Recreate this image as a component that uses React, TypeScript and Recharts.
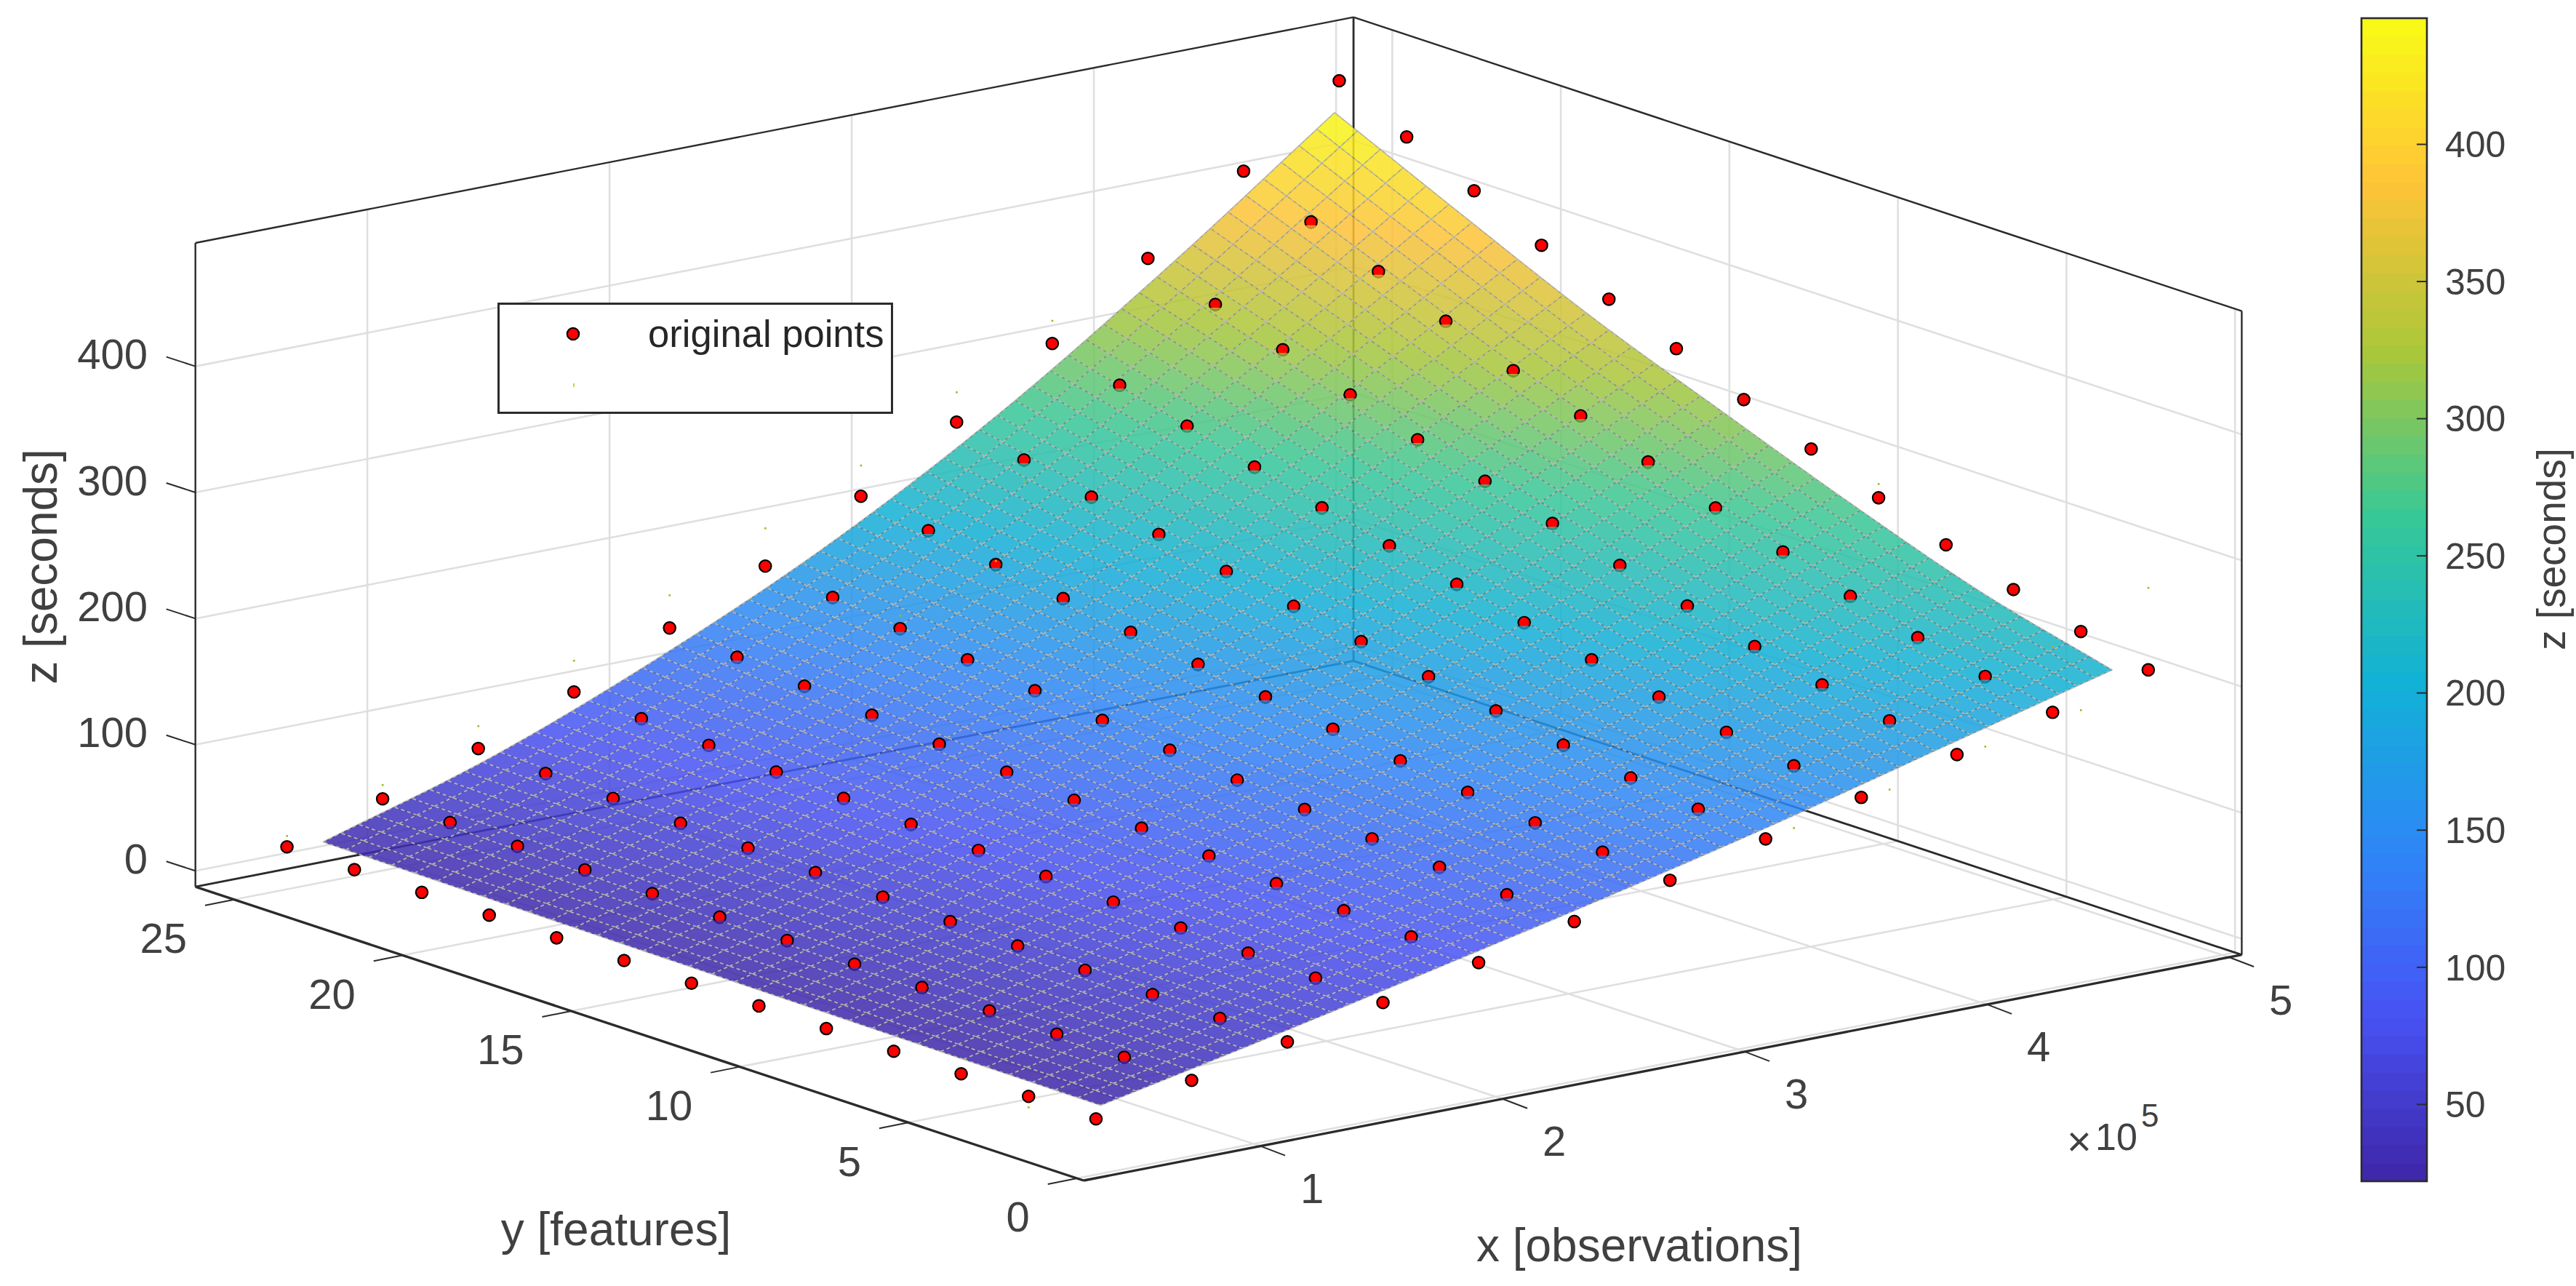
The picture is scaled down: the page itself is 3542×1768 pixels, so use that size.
import React from 'react';
import { ScatterChart, Scatter, XAxis, YAxis, Legend } from 'recharts';

const FONT = '"Liberation Sans", Arial, sans-serif';
const W = 3542, H = 1768;

const xTicks = [100000, 200000, 300000, 400000, 500000];
const xTickText = ['1', '2', '3', '4', '5'];
const yTicks = [0, 5, 10, 15, 20, 25];
const zTicks = [0, 100, 200, 300, 400];
const colorTicks = [50, 100, 150, 200, 250, 300, 350, 400];

const pointX = [48800, 88300, 127800, 167300, 206800, 246300, 285800, 325300, 364800, 404300, 443800, 483300];
const pointY = [1, 3, 5, 7, 9, 11, 13, 15, 17, 19, 21, 23, 25];
const pointZ = [
  [17.5, 17.7, 17.9, 18.1, 18.4, 18.7, 19, 19.3, 19.6, 19.9, 20.3, 20.6, 21],
  [33.3, 33.9, 34.5, 35.3, 36.2, 37, 38, 38.9, 39.9, 41, 42, 43.2, 44.3],
  [49, 50, 51.2, 52.7, 54.3, 55.9, 57.7, 59.5, 61.2, 63.2, 65.2, 67.3, 69.4],
  [65.4, 67.1, 69.2, 71.5, 74.3, 77, 79.9, 82.9, 85.8, 89.1, 92.5, 96, 99.5],
  [82.3, 85, 88.1, 91.9, 96.1, 100.4, 104.9, 109.5, 114, 119.3, 124.6, 129.9, 135.4],
  [100.1, 103.6, 107.8, 112.6, 118.2, 123.8, 129.8, 135.8, 141.6, 148.5, 155.5, 162.5, 169.7],
  [118, 122.6, 128.2, 134.6, 142, 149.4, 157.3, 165.4, 173.1, 182.2, 191.5, 200.7, 210.3],
  [136, 141.9, 149, 157.3, 166.8, 176.2, 186.4, 196.7, 206.6, 218.3, 230.2, 242, 254.3],
  [154.1, 161.5, 170.4, 180.7, 192.5, 204.3, 217, 229.9, 242.3, 256.9, 271.7, 286.4, 301.8],
  [173.3, 182.4, 193.2, 205.9, 220.4, 234.9, 250.5, 266.3, 281.5, 299.4, 317.5, 335.7, 354.5],
  [192, 202.8, 215.9, 231, 248.4, 265.7, 284.4, 303.3, 321.5, 343, 364.7, 386.3, 408.9],
  [210.9, 223.6, 239.2, 257, 276.6, 297.6, 319.1, 341.8, 363.3, 388.4, 413.9, 438.9, 465.8],
];

// small dots of the second legend entry: lattice indices and height
const dotI = [11, 11, 11, 10, 10, 9, 9, 8, 8, 10, 8, 7, 6, 5, 7, 6, 6, 5, 0, 1, 2, 0, 4, 3];
const dotJ = [4, 0, 1, 0, 1, 0, 1, 0, 1, 3, 12, 12, 12, 12, 11, 10, 9, 10, 12, 12, 12, 1, 12, 12];
const dotZ = [287.6, 276, 161.3, 244, 147.2, 215, 127.9, 177.9, 112.2, 189.7, 319.9, 278, 234.7, 199.7, 224.7, 194.3, 190.7, 165.8, 29.7, 55.3, 87.2, 9, 161.4, 124.3];

const surfaceX = [57200, 126800, 196500, 266100, 335700, 405300, 474900];
const surfaceY = [1.465, 5.31, 9.155, 13, 16.845, 20.69, 24.535];
const surfaceZ = [
  [21, 21.5, 22.3, 23.1, 23.9, 24.9, 25.9],
  [48.8, 51, 54, 57.2, 60.5, 64, 67],
  [78, 83.7, 90.7, 98.4, 106.3, 113, 120.5],
  [108, 118.8, 130.5, 143.5, 156.8, 170, 183.5],
  [140, 155.9, 174.2, 194.4, 215, 237, 260],
  [175, 195.8, 222.2, 251.4, 281.2, 315.8, 350],
  [209.9, 236.8, 272.6, 312, 352.5, 399.4, 447.8],
];
const MESH_X = 57, MESH_Y = 34;

const parula = [
  [62, 38, 168], [72, 82, 244], [46, 135, 247], [18, 177, 214],
  [55, 200, 151], [171, 199, 57], [254, 195, 56], [249, 251, 21],
];
const colorMin = 22, colorMax = 446;

const xLim = [27000, 505200], yLim = [-0.2, 26.15], zLim = [-12.6, 497.8];

function P(x: number, y: number, z: number) {
  const u = x / 1e5 - 0.27;
  const v = y + 0.2;
  return {
    sx: 1490 + 333 * u - 46.35 * v,
    sy: 1623 - 64.9 * u - 15.33 * v - 1.734 * (z - zLim[0]),
  };
}

function colorOf(z: number, k = 1) {
  const t = Math.max(0, Math.min(1, (z - colorMin) / (colorMax - colorMin))) * (parula.length - 1);
  const i = Math.min(parula.length - 2, Math.floor(t));
  const f = t - i;
  const c = parula[i].map((v, n) => Math.round((v + (parula[i + 1][n] - v) * f) * k));
  return `rgb(${c[0]},${c[1]},${c[2]})`;
}

function seg(a: any, b: any, stroke: string, w: number, dash?: string) {
  return { sx: a.sx, sy: a.sy, ex: b.sx, ey: b.sy, stroke, w, dash };
}
const SegShape = (p: any) => {
  const d = p.payload;
  return <line x1={p.cx} y1={p.cy} x2={p.cx + d.ex - d.sx} y2={p.cy + d.ey - d.sy} stroke={d.stroke} strokeWidth={d.w} strokeDasharray={d.dash} />;
};

const GRID = '#dfdfdf', GW = 2.6, DARK = '#2b2b2b';
const [x0, x1] = xLim, [y0, y1] = yLim, [z0, z1] = zLim;
const BACK_DX = 2000;
const gridSegs: any[] = [];
for (const x of xTicks) {
  gridSegs.push(seg(P(x, y0, z0), P(x - BACK_DX, y1, z0), GRID, GW));
  gridSegs.push(seg(P(x - BACK_DX, y1, z0), P(x - BACK_DX, y1, z1), GRID, GW));
}
for (const y of yTicks) {
  gridSegs.push(seg(P(x0, y, z0), P(x1, y, z0), GRID, GW));
  gridSegs.push(seg(P(x1, y, z0), P(x1, y, z1), GRID, GW));
}
for (const z of zTicks) {
  gridSegs.push(seg(P(x0, y1, z), P(x1, y1, z), GRID, GW));
  gridSegs.push(seg(P(x1, y1, z), P(x1, y0, z), GRID, GW));
}

const boxSegs = [
  seg(P(x0, y1, z0), P(x0, y1, z1), DARK, 2.4),
  seg(P(x1, y0, z0), P(x1, y0, z1), DARK, 2.4),
  seg(P(x1, y1, z0), P(x1, y1, z1), DARK, 2.8),
  seg(P(x0, y1, z1), P(x1, y1, z1), DARK, 2.4),
  seg(P(x1, y1, z1), P(x1, y0, z1), DARK, 2.4),
  seg(P(x0, y1, z0), P(x1, y1, z0), DARK, 2.8),
  seg(P(x1, y1, z0), P(x1, y0, z0), DARK, 2.8),
  seg(P(x0, y0, z0), P(x1, y0, z0), DARK, 3.4),
  seg(P(x0, y0, z0), P(x0, y1, z0), DARK, 3.4),
];
const tickSegs: any[] = [];
for (const x of xTicks) {
  const a = P(x, y0, z0);
  tickSegs.push(seg(a, { sx: a.sx + 34, sy: a.sy + 13 }, DARK, 2));
}
for (const y of yTicks) {
  const a = P(x0, y, z0);
  tickSegs.push(seg(a, { sx: a.sx - 40, sy: a.sy + 8 }, DARK, 2));
}
for (const z of zTicks) {
  const a = P(x0, y1, z);
  tickSegs.push(seg(a, { sx: a.sx - 40, sy: a.sy - 13 }, DARK, 2));
}

// smooth shading of the mesh between the read surface samples
const cr = (a: number, b: number, c: number, d: number, t: number) =>
  0.5 * (2 * b + (c - a) * t + (2 * a - 5 * b + 4 * c - d) * t * t + (3 * b - a - 3 * c + d) * t * t * t);
const at = (row: number[], k: number) =>
  k < 0 ? 2 * row[0] - row[1] : k >= row.length ? 2 * row[row.length - 1] - row[row.length - 2] : row[k];
const along = (row: number[], f: number) => {
  const i = Math.min(row.length - 2, Math.floor(f));
  return cr(at(row, i - 1), at(row, i), at(row, i + 1), at(row, i + 2), f - i);
};
function surfaceAt(x: number, y: number) {
  const fi = ((x - surfaceX[0]) / (surfaceX[6] - surfaceX[0])) * 6;
  const fj = ((y - surfaceY[0]) / (surfaceY[6] - surfaceY[0])) * 6;
  return along(surfaceZ.map((row) => along(row, fj)), fi);
}
const mx = (i: number) => surfaceX[0] + ((surfaceX[6] - surfaceX[0]) * i) / MESH_X;
const my = (j: number) => surfaceY[0] + ((surfaceY[6] - surfaceY[0]) * j) / MESH_Y;
const nodes: any[][] = [];
for (let i = 0; i <= MESH_X; i++) {
  nodes.push([]);
  for (let j = 0; j <= MESH_Y; j++) nodes[i].push(P(mx(i), my(j), surfaceAt(mx(i), my(j))));
}
const cells: any[] = [];
for (let i = 0; i < MESH_X; i++) {
  for (let j = 0; j < MESH_Y; j++) {
    const c = [nodes[i][j], nodes[i + 1][j], nodes[i + 1][j + 1], nodes[i][j + 1]];
    cells.push({ sx: c[0].sx, sy: c[0].sy, pts: c, fill: colorOf(surfaceAt(mx(i + 0.5), my(j + 0.5)), 0.99) });
  }
}
const CellShape = (p: any) => {
  const d = p.payload;
  const pts = d.pts.map((q: any) => `${p.cx + q.sx - d.sx},${p.cy + q.sy - d.sy}`).join(' ');
  return <polygon points={pts} fill={d.fill} fillOpacity={0.85} />;
};
const meshSegs: any[] = [];
const addMesh = (a: any, b: any) => {
  meshSegs.push(seg(a, b, 'rgba(45,45,70,0.4)', 1.3));
  meshSegs.push(seg(a, b, 'rgba(195,195,182,0.9)', 1.7, '5 4'));
};
for (let i = 0; i <= MESH_X; i++) for (let j = 0; j < MESH_Y; j++) addMesh(nodes[i][j], nodes[i][j + 1]);
for (let j = 0; j <= MESH_Y; j++) for (let i = 0; i < MESH_X; i++) addMesh(nodes[i][j], nodes[i + 1][j]);

const points: any[] = [];
pointX.forEach((x, i) =>
  pointY.forEach((y, j) => {
    const inside = x > surfaceX[0] && x < surfaceX[6] && y > surfaceY[0] && y < surfaceY[6];
    points.push({ ...P(x, y, pointZ[i][j]), inside, fill: colorOf(pointZ[i][j]) });
  })
);
const PointShape = (p: any) => (
  <g>
    <circle cx={p.cx} cy={p.cy} r={8.2} fill="#ff0000" stroke="#000" strokeWidth={2.2} />
    {p.payload.inside ? (
      <path d={`M ${p.cx - 8.1} ${p.cy + 4.6} A 9.3 9.3 0 0 0 ${p.cx + 8.1} ${p.cy + 4.6} Z`} fill={p.payload.fill} fillOpacity={0.75} />
    ) : null}
  </g>
);
const dots = dotI.map((i, n) => P(pointX[i], pointY[dotJ[n]], dotZ[n]));
const DotShape = (p: any) => <rect x={p.cx - 1.2} y={p.cy - 1.2} width={2.6} height={2.6} fill="#a6b81c" />;

const labels: any[] = [];
const addText = (sx: number, sy: number, text: string, size: number, anchor = 'middle', rot = 0, fill = '#404040') =>
  labels.push({ sx, sy, text, size, anchor, rot, fill });
xTicks.forEach((x, i) => {
  const a = P(x, y0, z0);
  addText(a.sx + 71, a.sy + 58, xTickText[i], 58);
});
yTicks.forEach((y) => {
  const a = P(x0, y, z0);
  addText(a.sx - 65, a.sy + 53, String(y), 58, 'end');
});
zTicks.forEach((z) => {
  const a = P(x0, y1, z);
  addText(203, a.sy - 17, String(z), 58, 'end');
});
addText(2254, 1712, 'x [observations]', 64);
addText(847, 1690, 'y [features]', 64);
addText(56, 779, 'z [seconds]', 64, 'middle', -90);
addText(3508, 755, 'z [seconds]', 55, 'middle', -90);
addText(2842, 1568, '×', 58, 'start');
addText(2881, 1563, '10', 52, 'start');
addText(2944, 1533, '5', 44, 'start');
const TextShape = (p: any) => {
  const d = p.payload;
  return (
    <text x={p.cx} y={p.cy} textAnchor={d.anchor} dominantBaseline="central" fontFamily={FONT} fontSize={d.size} fill={d.fill}
      transform={d.rot ? `rotate(${d.rot} ${p.cx} ${p.cy})` : undefined}>{d.text}</text>
  );
};

const LegendBox = () => (
  <div style={{ width: 544, height: 153, boxSizing: 'border-box', border: '3px solid #2b2b2b', background: '#fff', position: 'relative' }}>
    <svg width={538} height={147} style={{ position: 'absolute', left: 0, top: 0 }}>
      <circle cx={101} cy={40} r={8.2} fill="#ff0000" stroke="#000" strokeWidth={2.2} />
      <rect x={101} y={108} width={2} height={5} fill="#c8d44a" />
      <text x={204} y={58} fontFamily={FONT} fontSize={52.6} fill="#262626">original points</text>
    </svg>
  </div>
);

const levels = Array.from({ length: 64 }, (_, k) => colorMin + ((colorMax - colorMin) * k) / 64);
const levelData = levels.map((v) => ({
  u: 0.5,
  v: v + (colorMax - colorMin) / 128,
  fill: colorOf(v + (colorMax - colorMin) / 128),
}));
const BAR_W = 90, BAR_H = H - 25 - 144;
const LevelShape = (p: any) => (
  <rect x={p.cx - BAR_W / 2} y={p.cy - BAR_H / 128 - 0.5} width={BAR_W} height={BAR_H / 64 + 1} fill={p.payload.fill} />
);
const frameData = [{ u: 0.5, v: (colorMin + colorMax) / 2 }];
const FrameShape = (p: any) => (
  <rect x={p.cx - BAR_W / 2} y={p.cy - BAR_H / 2} width={BAR_W} height={BAR_H} fill="none" stroke={DARK} strokeWidth={2.6} />
);
const colorTickData = colorTicks.map((v) => ({ u: 1, v }));
const ColorTickShape = (p: any) => <line x1={p.cx - 14} y1={p.cy} x2={p.cx} y2={p.cy} stroke={DARK} strokeWidth={2} />;

export default function App() {
  return (
    <div style={{ position: 'absolute', left: 0, top: 0, width: W, height: H, background: '#fff', overflow: 'hidden' }}>
      <div style={{ position: 'absolute', left: 0, top: 0 }}>
        <ScatterChart width={W} height={H} margin={{ top: 0, right: 0, bottom: 0, left: 0 }}>
          <XAxis type="number" dataKey="sx" domain={[0, W]} hide />
          <YAxis type="number" dataKey="sy" domain={[0, H]} reversed hide />
          <Scatter name="grid" data={gridSegs} shape={SegShape} isAnimationActive={false} legendType="none" />
          <Scatter name="box" data={boxSegs} shape={SegShape} isAnimationActive={false} legendType="none" />
          <Scatter name="ticks" data={tickSegs} shape={SegShape} isAnimationActive={false} legendType="none" />
          <Scatter name="surface" data={cells} shape={CellShape} isAnimationActive={false} legendType="none" />
          <Scatter name="mesh" data={meshSegs} shape={SegShape} isAnimationActive={false} legendType="none" />
          <Scatter name="original points" data={points} shape={PointShape} isAnimationActive={false} />
          <Scatter name="fit" data={dots} shape={DotShape} isAnimationActive={false} legendType="none" />
          <Scatter name="labels" data={labels} shape={TextShape} isAnimationActive={false} legendType="none" />
          <Legend layout="vertical" align="center" verticalAlign="middle" content={<LegendBox />}
            wrapperStyle={{ position: 'absolute', left: 684, top: 416, width: 544, height: 153, bottom: 'auto', right: 'auto' }} />
        </ScatterChart>
      </div>
      <div style={{ position: 'absolute', left: 3200, top: 0 }}>
        <ScatterChart width={342} height={H} margin={{ top: 25, right: 5, bottom: 144, left: 47 }}>
          <XAxis type="number" dataKey="u" domain={[0, 1]} hide />
          <YAxis type="number" dataKey="v" orientation="right" domain={[colorMin, colorMax]} ticks={colorTicks} width={200}
            axisLine={false} tickSize={-14} tickMargin={39} tickLine={false}
            tick={{ fontFamily: FONT, fontSize: 50, fill: '#404040' }} interval={0} />
          <Scatter name="colorbar" data={levelData} shape={LevelShape} isAnimationActive={false} legendType="none" />
          <Scatter name="colorbar ticks" data={colorTickData} shape={ColorTickShape} isAnimationActive={false} legendType="none" />
          <Scatter name="colorbar frame" data={frameData} shape={FrameShape} isAnimationActive={false} legendType="none" />
        </ScatterChart>
      </div>
    </div>
  );
}
